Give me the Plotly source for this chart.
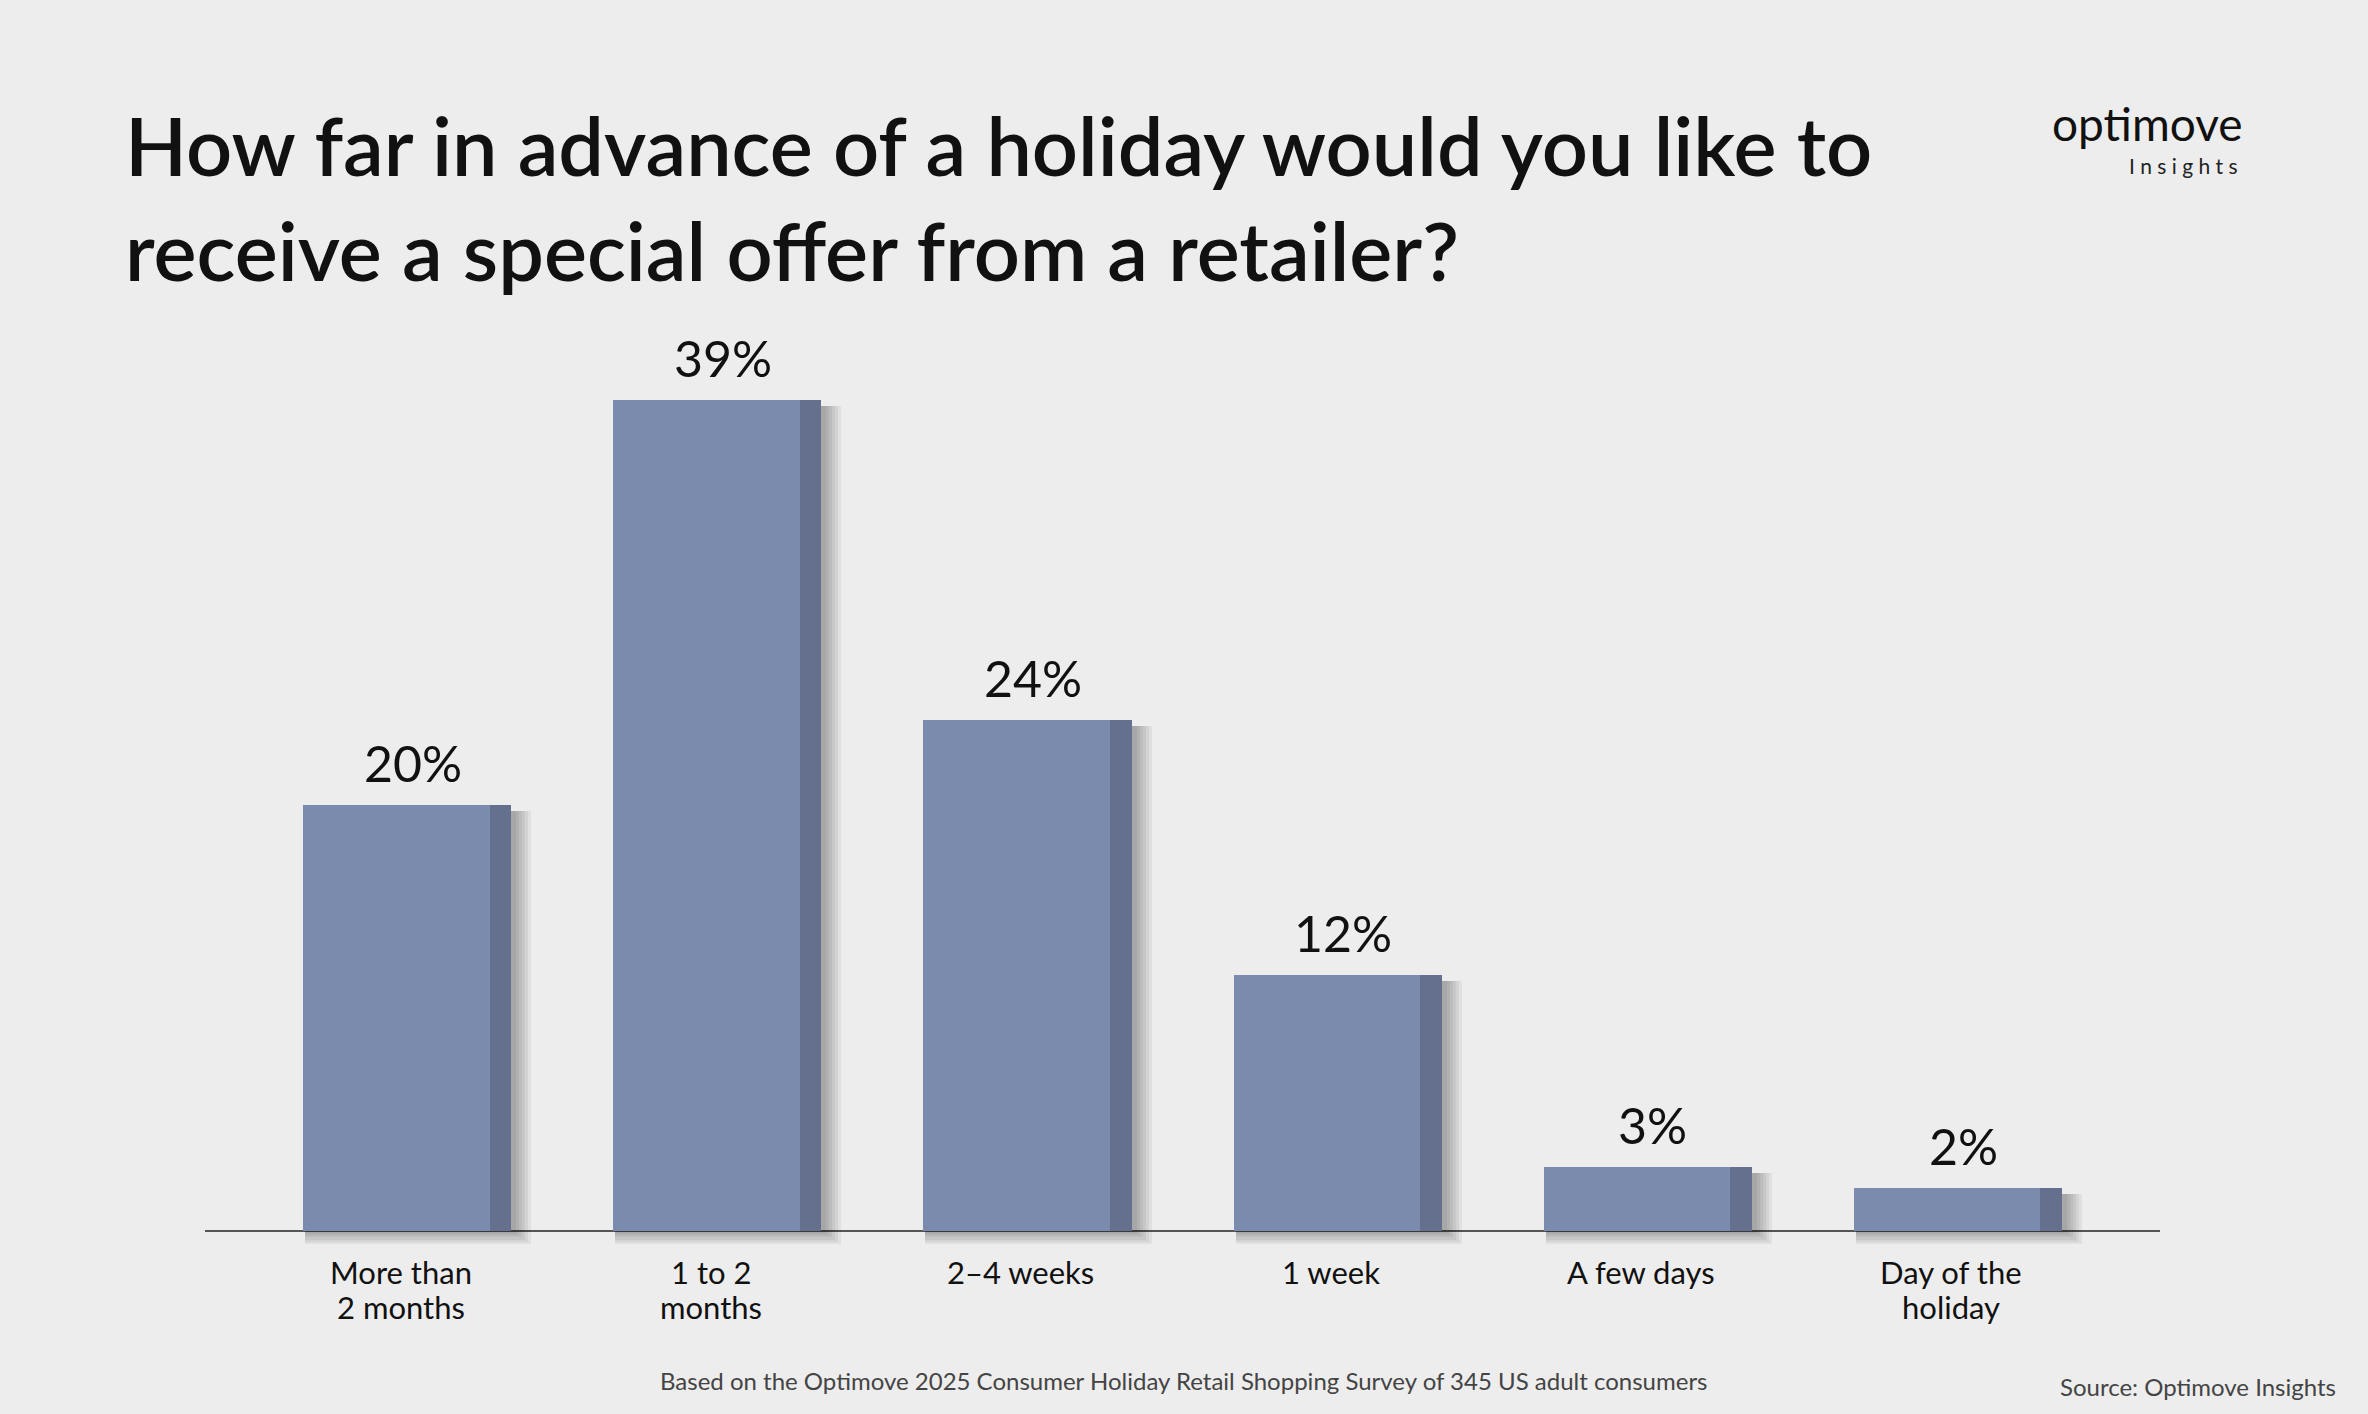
import plotly.graph_objects as go

categories = ["More than<br>2 months", "1 to 2<br>months", "2–4 weeks", "1 week", "A few days", "Day of the<br>holiday"]
values = [20, 39, 24, 12, 3, 2]
value_labels = ["20%", "39%", "24%", "12%", "3%", "2%"]

title_text = "How far in advance of a holiday would you like to<br>receive a special offer from a retailer?"
footer_text = "Based on the Optimove 2025 Consumer Holiday Retail Shopping Survey of 345 US adult consumers"
source_text = "Source: Optimove Insights"

W, H = 2368, 1414
L, R, T, B = 205, 208, 300, 162
BG = "#EDEDED"
FACE = "#7B8BAE"
SIDE = "#64708E"
FONT = "Lato"

xs = list(range(len(values)))
face_w = 0.603
side_w = 0.068
px_per_unit_x = (W - L - R) / (5.687 + 0.619)
y_min, y_max = -1.0, 43.7
px_per_unit_y = (H - T - B) / (y_max - y_min)

fig = go.Figure()

# soft drop shadow layers
for i in range(1, 7):
    ext_r = i * 3.0 / px_per_unit_x
    ext_b = i * 2.2 / px_per_unit_y
    top_cut = 6.0 / px_per_unit_y
    fig.add_trace(go.Bar(
        x=xs, y=[v - top_cut + ext_b for v in values], base=[-ext_b] * len(values),
        width=face_w + side_w + ext_r, offset=-face_w / 2 + 2.0 / px_per_unit_x,
        marker=dict(color="rgba(0,0,0,0.055)", line=dict(width=0)),
        hoverinfo="skip", showlegend=False,
    ))

fig.add_trace(go.Bar(
    x=xs, y=values, width=face_w, offset=-face_w / 2,
    marker=dict(color=FACE, line=dict(width=0)), showlegend=False,
))
fig.add_trace(go.Bar(
    x=xs, y=values, width=side_w, offset=face_w / 2,
    marker=dict(color=SIDE, line=dict(width=0)), showlegend=False,
))

annotations = []
for i, (v, t) in enumerate(zip(values, value_labels)):
    annotations.append(dict(x=i, y=v, xref="x", yref="y", text=t, showarrow=False,
                            yanchor="bottom", xshift=16, yshift=10,
                            font=dict(family=FONT, size=50, color="#111111")))
LINE_GAP = 35
for i, c in enumerate(categories):
    for j, line in enumerate(c.split("<br>")):
        annotations.append(dict(x=i, y=0, xref="x", yref="y", text=line, showarrow=False,
                                yanchor="top", xshift=4, yshift=-20 - j * LINE_GAP,
                                font=dict(family=FONT, size=31, color="#111111")))

pw, ph = W - L - R, H - T - B
def px(xp):
    return (xp - L) / pw
def py(yp):
    return (H - B - yp) / ph

annotations += [
    dict(x=px(1183), y=py(1380), xref="paper", yref="paper", text=footer_text, showarrow=False,
         xanchor="center", yanchor="middle", font=dict(family=FONT, size=24, color="#444444")),
    dict(x=px(2338), y=py(1386), xref="paper", yref="paper", text=source_text, showarrow=False,
         xanchor="right", yanchor="middle", font=dict(family=FONT, size=24, color="#444444")),
    dict(x=px(2245), y=py(153), xref="paper", yref="paper", text="optimove", showarrow=False,
         xanchor="right", yanchor="bottom", font=dict(family=FONT, size=46, color="#111111")),
    dict(x=px(2240), y=py(151), xref="paper", yref="paper", text="I n s i g h t s", showarrow=False,
         xanchor="right", yanchor="top", font=dict(family=FONT, size=21, color="#222222")),
]

fig.update_layout(
    width=W, height=H,
    paper_bgcolor=BG, plot_bgcolor=BG,
    margin=dict(l=L, r=R, t=T, b=B),
    barmode="overlay", bargap=0,
    title=dict(text=title_text, x=125 / W, xref="container", xanchor="left",
               y=1 - 176 / H, yref="container", yanchor="top",
               font=dict(family=FONT, size=81, color="#111111", weight=600)),
    xaxis=dict(range=[-0.619, 5.687], showgrid=False, zeroline=False, showticklabels=False,
               showline=False, fixedrange=True),
    yaxis=dict(range=[y_min, y_max], showgrid=False, showticklabels=False, showline=False,
               zeroline=True, zerolinecolor="#555555", zerolinewidth=2, fixedrange=True),
    annotations=annotations,
)

fig.write_html("out.html", config={"displayModeBar": False},
               post_script="document.body.style.margin='0';document.body.style.overflow='hidden';")
